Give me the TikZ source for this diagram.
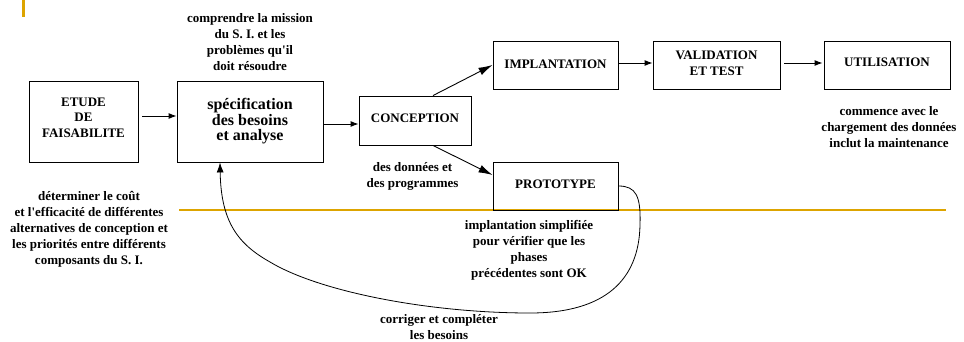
\documentclass[tikz,border=0pt]{standalone}
\usepackage{fontspec}
\setmainfont{Liberation Serif}
\usetikzlibrary{arrows.meta,calc}
\definecolor{gold}{RGB}{221,164,0}
\begin{document}
\begin{tikzpicture}[x=1pt,y=-1pt,
  box/.style={draw,line width=0.9pt,inner sep=0pt,align=center,text depth=4pt,
    font=\fontsize{13}{15.5}\selectfont\bfseries},
  lbl/.style={inner sep=0pt,align=center,font=\fontsize{13}{16}\selectfont\bfseries},
  arr/.style={line width=0.9pt,-{Latex[length=8pt,width=6pt]}},
  bigarr/.style={line width=0.9pt,-{Latex[length=14pt,width=8pt]}},
  thin/.style={line width=0.8pt,-{Latex[length=10pt,width=7pt]}}]
\useasboundingbox (0,0) rectangle (964,341);
% decoration
\fill[gold] (22,0) rectangle (25,17);
\draw[gold,line width=1.5pt] (179,210) -- (946,210);
% boxes
\node[box,minimum width=109pt,minimum height=81pt,text depth=8pt] (E) at (83.5,121.5) {ETUDE\\DE\\FAISABILITE};
\node[box,minimum width=146pt,minimum height=81pt,font=\fontsize{16}{15.5}\selectfont\bfseries] (S) at (250,121.5) {spécification\\des besoins\\et analyse};
\node[box,minimum width=112pt,minimum height=49pt] (C) at (415,120.5) {CONCEPTION};
\node[box,minimum width=125pt,minimum height=48pt,text depth=1pt] (I) at (555.5,65) {IMPLANTATION};
\node[box,minimum width=125pt,minimum height=48pt] (P) at (555.5,186) {PROTOTYPE};
\node[box,minimum width=127pt,minimum height=48pt] (V) at (716.5,65) {VALIDATION\\ET TEST};
\node[box,minimum width=126pt,minimum height=48pt,text depth=6pt] (U) at (887,65) {UTILISATION};
% labels
\node[lbl] (t1) at (250,42) {comprendre la mission\\du S. I. et les\\problèmes qu\textquotesingle il\\doit résoudre};
\node[lbl] (t2) at (89,229.5) {déterminer le coût\\et l\textquotesingle efficacité de différentes\\alternatives de conception et\\les priorités entre différents\\composants du S. I.};
\node[lbl] (t3) at (412.5,176) {des données et\\des programmes};
\node[lbl] (t4) at (529,250) {implantation simplifiée\\pour vérifier que les\\phases\\précédentes sont OK};
\node[lbl] (t5) at (439,327.5) {corriger et compléter\\les besoins};
\node[lbl] (t6) at (889,127) {commence avec le\\chargement des données\\inclut la maintenance};
% connectors
\draw[arr] ($(E.east|-0,116)+(4,0)$) -- (S.west|-0,116);
\draw[arr] (S.east|-0,124) -- (C.west|-0,124);
\draw[bigarr] (C.north -| 433,0) -- (I.west);
\draw[bigarr] (C.south -| 433,0) -- (P.west|-0,175);
\draw[arr] (I.east|-0,63) -- (V.west|-0,63);
\draw[arr] ($(V.east|-0,63)+(4,0)$) -- ($(U.west|-0,63)+(-1,0)$);
\draw[thin] (P.east) .. controls (636,186) and (641,196) .. (640,225)
  .. controls (639,280) and (605,313) .. (530,313)
  .. controls (430,313) and (320,292) .. (270,262)
  .. controls (238,244) and (221,222) .. (S.south -| 220,0);
\end{tikzpicture}
\end{document}
